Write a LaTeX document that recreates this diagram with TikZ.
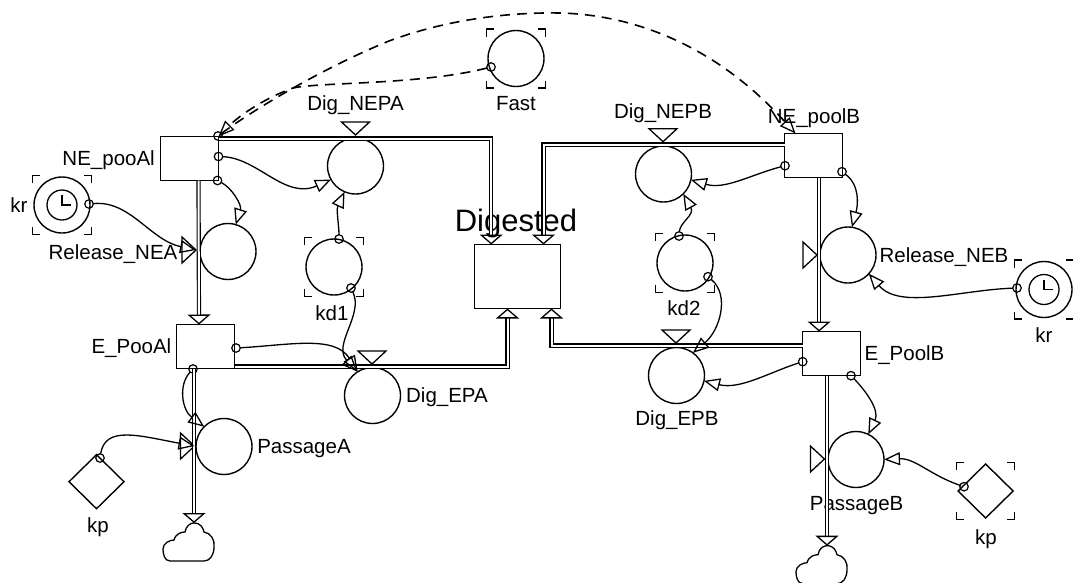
\documentclass[tikz,border=0pt]{standalone}
\usepackage{fontspec}
\setmainfont{Liberation Sans}
\usetikzlibrary{shapes.geometric,arrows.meta}
\tikzstyle{box} = [ rectangle, draw = black, line width = 1.2pt, inner sep = 0pt, %
                    outer sep = 0pt, minimum width = 58pt, minimum height = 44pt ]
\tikzstyle{conv} = [ circle, draw = black, line width = 1.4pt, inner sep = 0pt, %
                     outer sep = 0pt, minimum size = 56pt ]
\tikzstyle{tap} = [ circle, draw = black, line width = 1.2pt, inner sep = 0pt, %
                    outer sep = 0pt, minimum size = 8.5pt ]
\tikzstyle{valve} = [ isosceles triangle, isosceles triangle stretches, draw = black, %
                      line width = 1.3pt, inner sep = 0pt, outer sep = 0pt ]
\tikzstyle{valvedown} = [ valve, shape border rotate = -90, anchor = apex, %
                          minimum height = 13pt, minimum width = 28pt ]
\tikzstyle{valveright} = [ valve, anchor = apex, minimum height = 14pt, minimum width = 26pt ]
\tikzstyle{txt} = [ inner sep = 0pt, text height = 15pt, text depth = 0pt, %
                    font = \fontsize{20.5}{24}\selectfont ]
\tikzstyle{diam} = [ diamond, draw = black, line width = 1.4pt, inner sep = 0pt, %
                     outer sep = 0pt, minimum width = 55pt, minimum height = 54pt ]
\tikzstyle{flow} = [ line width = 1.1pt, double, double distance = 2pt, %
                     -{Triangle[open,length=10pt,width=23pt,line width=1.3pt]} ]
\tikzstyle{link} = [ line width = 1.3pt, %
                     -{Triangle[open,length=16pt,width=13pt,line width=1.3pt]} ]
\tikzstyle{dashlink} = [ link, line width = 1.6pt, dash pattern = on 10pt off 7pt ]
\tikzset{pics/sink/.style = {code = {
  \draw [line width = 1.3pt] (0,0) .. controls (7,0) and (9,5) .. (10,9) %
    .. controls (17,10) and (21,17) .. (20,24) .. controls (20,32) and (16,38) .. (10,38) %
    -- (-24,38) .. controls (-30,38) and (-31,30) .. (-31,26) %
    .. controls (-31,20) and (-24,17) .. (-20,17) .. controls (-18,10) and (-12,9) .. (-9,9) %
    .. controls (-8,3) and (-4,0) .. (0,0);}}}
\newcommand{\corners}[1]{%
  \draw [line width = 1.2pt] ([xshift=-1.5pt,yshift=-6pt]#1.north -| #1.west) %
    -- ++(0,-7.5) -- ++(7.5,0);
  \draw [line width = 1.2pt] ([xshift=1.5pt,yshift=-6pt]#1.north -| #1.east) %
    -- ++(0,-7.5) -- ++(-7.5,0);
  \draw [line width = 1.2pt] ([xshift=-1.5pt,yshift=6pt]#1.south -| #1.west) %
    -- ++(0,7.5) -- ++(7.5,0);
  \draw [line width = 1.2pt] ([xshift=1.5pt,yshift=6pt]#1.south -| #1.east) %
    -- ++(0,7.5) -- ++(-7.5,0);}
\newcommand{\clockface}[1]{%
  \node (#1face) [circle, draw, line width = 1.3pt, minimum size = 30pt, inner sep = 0pt] %
    at (#1) {};
  \draw [line width = 1.2pt] ([yshift=10pt]#1.center) -- (#1.center) -- ([xshift=9pt]#1.center);}

\begin{document}
\begin{tikzpicture}[x=1pt,y=-1pt]
      \useasboundingbox (0,0) rectangle (1073,582);
      % Boxes
      \node (poolNEA) [box] at (189.5,158.5) {};
      \node (poolEA) [box] at (205.5,346.5) {};
      \node (digested) [box,minimum width=86pt,minimum height=64pt] at (517.5,276.5) {};
      \node (poolNEB) [box] at (813.5,155.5) {};
      \node (poolEB) [box] at (831.5,353.5) {};
      % Rates
      \node (digNEA) [conv] at (355.5,166) {};
      \node (relA) [conv] at (228,251.5) {};
      \node (digEA) [conv] at (372.5,395.5) {};
      \node (pasA) [conv] at (224,446.5) {};
      \node (digNEB) [conv] at (663.5,174) {};
      \node (relB) [conv] at (848,255) {};
      \node (digEB) [conv] at (676.5,375.5) {};
      \node (pasB) [conv] at (856,459.5) {};
      % Constants
      \node (fast) [conv] at (516,58.5) {};
      \node (kdA) [conv] at (334,267) {};
      \node (kdB) [conv] at (685,263) {};
      \node (krA) [conv] at (62,205) {};
      \node (krB) [conv] at (1044,289.5) {};
      \node (kpA) [diam] at (96.5,481.7) {};
      \node (kpB) [diam] at (985.6,491) {};
      \corners{fast}
      \corners{kdA}
      \corners{kdB}
      \corners{krA}
      \corners{krB}
      \corners{kpB}
      \clockface{krA}
      \clockface{krB}
      % Valves
      \node (valveNEA) [valvedown] at (355.5,135) {};
      \node (valveEA) [valvedown] at (372,364) {};
      \node (valveNEB) [valvedown] at (663,141.7) {};
      \node (valveEB) [valvedown] at (676,343) {};
      \node (valveRelA) [valveright] at (196,250) {};
      \node (valvePasA) [valveright] at (194.5,446) {};
      \node (valveRelB) [valveright] at (817,255) {};
      \node (valvePasB) [valveright] at (824.4,459) {};
      % Clouds
      \coordinate (cloudA) at (194,523);
      \coordinate (cloudB) at (827,545.7);
      \pic at (cloudA) {sink};
      \pic at (cloudB) {sink};
      % Taps
      \node (tapFast) [tap] at (491,67) {};
      \node (tapNEAtop) [tap] at (218,136) {};
      \node (tapNEAmid) [tap] at (218.5,156.5) {};
      \node (tapNEAbot) [tap] at (217.5,180.5) {};
      \node (tapKrA) [tap] at (89,204) {};
      \node (tapKdAtop) [tap] at (339,239) {};
      \node (tapKdAbot) [tap] at (351,288) {};
      \node (tapEAside) [tap] at (236,348) {};
      \node (tapEAbot) [tap] at (193,369) {};
      \node (tapKpA) [tap] at (100,458) {};
      \node (tapNEBside) [tap] at (785,165.7) {};
      \node (tapNEBbot) [tap] at (842,171.7) {};
      \node (tapKdBtop) [tap] at (679,236) {};
      \node (tapKdBbot) [tap] at (708,276.7) {};
      \node (tapKrB) [tap] at (1017,288) {};
      \node (tapEBside) [tap] at (802.7,361.7) {};
      \node (tapEBbot) [tap] at (851,375.7) {};
      \node (tapKpB) [tap] at (964,486.7) {};
      % Labels
      \node (lblNEA) [txt,anchor=east] at (155,158) {NE\_pooAl};
      \node (lblEA) [txt,anchor=east] at (171.5,346) {E\_PooAl};
      \node (lblNEB) [txt] at (814,116) {NE\_poolB};
      \node (lblEB) [txt] at (904.5,353) {E\_PoolB};
      \node (lblDigNEA) [txt] at (355.5,103) {Dig\_NEPA};
      \node (lblRelA) [txt] at (113,252) {Release\_NEA};
      \node (lblDigEA) [txt] at (447,395) {Dig\_EPA};
      \node (lblPasA) [txt] at (304,446) {PassageA};
      \node (lblDigNEB) [txt] at (663,110.7) {Dig\_NEPB};
      \node (lblRelB) [txt] at (944,255) {Release\_NEB};
      \node (lblDigEB) [txt] at (677,418) {Dig\_EPB};
      \node (lblPasB) [txt] at (856.6,503) {PassageB};
      \node (lblFast) [txt] at (516,103) {Fast};
      \node (lblKdA) [txt] at (332,313) {kd1};
      \node (lblKdB) [txt] at (684,308) {kd2};
      \node (lblKrA) [txt] at (19,205) {kr};
      \node (lblKrB) [txt] at (1044,335) {kr};
      \node (lblKpA) [txt] at (98,525) {kp};
      \node (lblKpB) [txt] at (986,537) {kp};
      \node (lblDigested) [txt,text height=23pt,font=\fontsize{31}{34}\selectfont] at (516,220) {Digested};
      % Flows
      \draw [flow] ([yshift=-2pt]poolNEA.north east) -| ([xshift=16.7pt]digested.north west);
      \draw [flow] ([xshift=38pt]poolNEA.south west) -- ([xshift=22.5pt]poolEA.north west);
      \draw [flow] ([xshift=17.5pt]poolEA.south west) -- (cloudA);
      \draw [flow] ([yshift=2pt]poolEA.south east) -| ([xshift=33pt]digested.south west);
      \draw [flow] ([yshift=-11pt]poolNEB.north west) -| ([xshift=-17pt]digested.north east);
      \draw [flow] ([xshift=34.6pt]poolNEB.south west) -- ([xshift=16.6pt]poolEB.north west);
      \draw [flow] ([yshift=-14pt]poolEB.north west) -| ([xshift=-9pt]digested.south east);
      \draw [flow] ([xshift=24.5pt]poolEB.south west) -- (cloudB);
      % Arrows
      \draw [link] (tapKrA) .. controls (130,200) and (150,240) .. (valveRelA.apex);
      \draw [link] (tapNEAmid) .. controls (258,158) and (285,200) .. (digNEA.209);
      \draw [link] (tapNEAbot) .. controls (232,188) and (242,205) .. (relA.74);
      \draw [link] (tapKdAtop) .. controls (339,225) and (336,210) .. (digNEA.247);
      \draw [link] (tapKdAbot) .. controls (364,315) and (332,345) .. (digEA.122);
      \draw [link] (tapEAside) .. controls (290,345) and (335,335) .. (digEA.122);
      \draw [link] (tapEAbot) .. controls (178,385) and (182,410) .. (pasA.135);
      \draw [link] (tapKpA) .. controls (105,425) and (140,436) .. (valvePasA.apex);
      \draw [link] (tapNEBside) .. controls (750,175) and (725,190) .. (digNEB.-12);
      \draw [link] (tapKdBtop) .. controls (680,222) and (695,215) .. (digNEB.-45);
      \draw [link] (tapNEBbot) .. controls (860,185) and (858,205) .. (relB.82);
      \draw [link] (tapKrB) .. controls (960,290) and (900,310) .. (relB.-42);
      \draw [link] (tapEBside) .. controls (770,372) and (740,390) .. (digEB.-11);
      \draw [link] (tapKdBbot) .. controls (730,295) and (720,330) .. (digEB.54);
      \draw [link] (tapEBbot) .. controls (865,390) and (880,410) .. (pasB.64);
      \draw [link] (tapKpB) .. controls (930,475) and (915,458) .. (pasB.0);
      \draw [dashlink] (tapFast) .. controls (420,85) and (320,82) .. (293,88) %
        .. controls (265,98) and (240,115) .. (poolNEA.north east);
      \draw [dashlink] (tapNEAtop) .. controls (260,105) and (330,65) .. (389,41) %
        .. controls (440,22) and (500,12) .. (560,13) %
        .. controls (640,15) and (720,50) .. ([xshift=11pt]poolNEB.north west);
\end{tikzpicture}
\end{document}
